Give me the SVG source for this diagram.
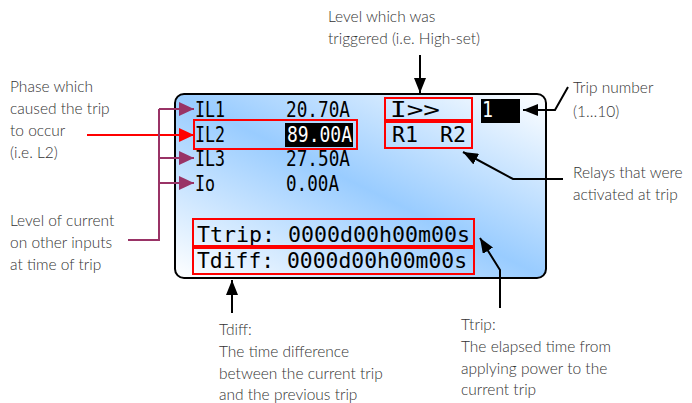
<svg xmlns="http://www.w3.org/2000/svg" width="692" height="403" viewBox="0 0 692 403">
<style>
.note{font-family:Lato,"Open Sans","Liberation Sans",sans-serif;font-size:15.5px;font-weight:300;fill:#333;}
.lcd{font-family:"DejaVu Sans Mono","Liberation Mono",monospace;font-size:20.5px;fill:#000;}
.lcd2{font-family:"DejaVu Sans Mono","Liberation Mono",monospace;font-size:21px;fill:#000;}
.hl{fill:none;stroke:#ff0000;stroke-width:2;}
.blk{fill:none;stroke:#000;stroke-width:2;}
.pur{fill:none;stroke:#993366;stroke-width:2;}
.red{fill:none;stroke:#ff0000;stroke-width:2;}
</style>
<defs>
<linearGradient id="scr" x1="1" y1="0" x2="0" y2="1">
<stop offset="0" stop-color="#ffffff"/>
<stop offset="0.5" stop-color="#99ccff"/>
<stop offset="1" stop-color="#ffffff"/>
</linearGradient>
<marker id="ab" markerWidth="15" markerHeight="12" refX="15" refY="6" orient="auto" markerUnits="userSpaceOnUse"><path d="M0,0 L15,6 L0,12 Z" fill="#000"/></marker>
<marker id="ap" markerWidth="15" markerHeight="14" refX="15" refY="7" orient="auto" markerUnits="userSpaceOnUse"><path d="M0,0 L15,7 L0,14 Z" fill="#993366"/></marker>
<marker id="ar" markerWidth="15" markerHeight="14" refX="15" refY="7" orient="auto" markerUnits="userSpaceOnUse"><path d="M0,0 L15,7 L0,14 Z" fill="#ff0000"/></marker>
</defs>
<rect width="692" height="403" fill="#fff"/>

<g id="screen">
<rect x="175" y="94" width="371" height="184" rx="9" fill="url(#scr)" stroke="#000" stroke-width="2"/>
<rect x="285" y="123" width="68" height="24" fill="#000"/>
<rect x="481" y="99" width="39" height="24" fill="#000"/>
<text class="lcd" x="195" y="117" textLength="30" lengthAdjust="spacingAndGlyphs">IL1</text>
<text class="lcd" x="286" y="117" textLength="64" lengthAdjust="spacingAndGlyphs">20.70A</text>
<text class="lcd" x="195" y="142" textLength="30" lengthAdjust="spacingAndGlyphs">IL2</text>
<text class="lcd" x="287" y="142" textLength="65" lengthAdjust="spacingAndGlyphs" style="fill:#fff">89.00A</text>
<text class="lcd" x="195" y="166" textLength="30" lengthAdjust="spacingAndGlyphs">IL3</text>
<text class="lcd" x="286" y="166" textLength="64" lengthAdjust="spacingAndGlyphs">27.50A</text>
<text class="lcd" x="195" y="191" textLength="20" lengthAdjust="spacingAndGlyphs">Io</text>
<text class="lcd" x="286" y="191" textLength="53" lengthAdjust="spacingAndGlyphs">0.00A</text>
<text class="lcd" x="390" y="117" textLength="50" lengthAdjust="spacingAndGlyphs">I&gt;&gt;</text>
<text class="lcd" x="392" y="142" textLength="26" lengthAdjust="spacingAndGlyphs">R1</text>
<text class="lcd" x="440" y="142" textLength="26" lengthAdjust="spacingAndGlyphs">R2</text>
<text class="lcd" x="482" y="117" textLength="11" lengthAdjust="spacingAndGlyphs" style="fill:#fff">1</text>
<text class="lcd2" x="197" y="242" textLength="273" lengthAdjust="spacingAndGlyphs">Ttrip: 0000d00h00m00s</text>
<text class="lcd2" x="197" y="268" textLength="270" lengthAdjust="spacingAndGlyphs">Tdiff: 0000d00h00m00s</text>
<rect class="hl" x="194" y="120" width="163" height="29"/>
<rect class="hl" x="385" y="98" width="87" height="22"/>
<rect class="hl" x="385" y="122" width="87" height="26"/>
<rect class="hl" x="193" y="219" width="281" height="27"/>
<rect class="hl" x="193" y="248" width="281" height="26"/>
</g>

<g id="note-phase">
<text class="note" x="10" y="92">Phase which</text>
<text class="note" x="10" y="114">caused the trip</text>
<text class="note" x="10" y="136">to occur</text>
<text class="note" x="10" y="158">(i.e. L2)</text>
</g>
<g id="note-level">
<text class="note" x="10" y="226">Level of current</text>
<text class="note" x="10" y="248">on other inputs</text>
<text class="note" x="10" y="270">at time of trip</text>
</g>
<g id="note-trigger">
<text class="note" x="328" y="22">Level which was</text>
<text class="note" x="328" y="44">triggered (i.e. High-set)</text>
</g>
<g id="note-tripnum">
<text class="note" x="573" y="93">Trip number</text>
<text class="note" x="573" y="117">(1…10)</text>
</g>
<g id="note-relays">
<text class="note" x="573" y="178">Relays that were</text>
<text class="note" x="573" y="200">activated at trip</text>
</g>
<g id="note-ttrip">
<text class="note" x="461" y="330">Ttrip:</text>
<text class="note" x="461" y="352">The elapsed time from</text>
<text class="note" x="461" y="374">applying power to the</text>
<text class="note" x="461" y="395">current trip</text>
</g>
<g id="note-tdiff">
<text class="note" x="219" y="335">Tdiff:</text>
<text class="note" x="219" y="357">The time difference</text>
<text class="note" x="219" y="379">between the current trip</text>
<text class="note" x="219" y="400">and the previous trip</text>
</g>

<g id="connectors">
<path class="red" d="M87,135 H194" marker-end="url(#ar)"/>
<path class="pur" d="M128,240 H159 V109"/>
<path class="pur" d="M159,109 H194" marker-end="url(#ap)"/>
<path class="pur" d="M159,158 H194" marker-end="url(#ap)"/>
<path class="pur" d="M159,183 H194" marker-end="url(#ap)"/>
<path class="blk" d="M420,55 V93" marker-end="url(#ab)"/>
<path class="blk" d="M568,87 L555,110 H523" marker-end="url(#ab)"/>
<path class="blk" d="M563,179 H513 L463,152" marker-end="url(#ab)"/>
<path class="blk" d="M500,308 V270 L480,238" marker-end="url(#ab)"/>
<path class="blk" d="M232,313 V280" marker-end="url(#ab)"/>
</g>
</svg>
